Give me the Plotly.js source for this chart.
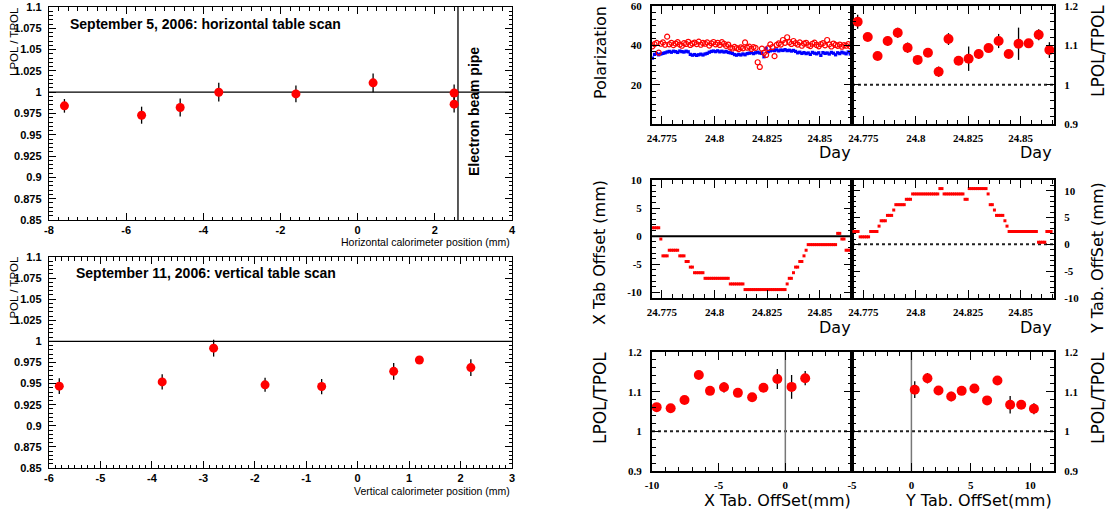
<!DOCTYPE html>
<html><head><meta charset="utf-8">
<script src="https://cdn.plot.ly/plotly-3.0.1.min.js"></script>
<style>html,body{margin:0;padding:0;background:#fff}#chart{width:1107px;height:509px}</style>
</head><body><div id="chart"></div>
<script>
// ---------------- DATA ----------------
// Left top: horizontal table scan
const hScanPos   = [-7.6, -5.6, -4.6, -3.6, -1.6, 0.4, 2.5, 2.5];
const hScanRatio = [0.984, 0.973, 0.982, 1.000, 0.998, 1.011, 0.999, 0.986];
const hScanErr   = [0.008, 0.010, 0.0105, 0.011, 0.0098, 0.011, 0.010, 0.0098];
// Left bottom: vertical table scan
const vScanPos   = [-5.8, -3.8, -2.8, -1.8, -0.7, 0.7, 1.2, 2.2];
const vScanRatio = [0.947, 0.952, 0.992, 0.9485, 0.9465, 0.9645, 0.978, 0.969];
const vScanErr   = [0.0093, 0.009, 0.010, 0.0083, 0.009, 0.010, 0.0034, 0.0099];
// Time stamps (days) of the polarisation / table position records
const days = [
 24.7705,24.7715,24.7725,24.7735,24.7745,24.7755,24.7765,24.7775,24.7785,24.7795,
 24.7805,24.7815,24.7825,24.7835,24.7845,24.7855,24.7865,24.7875,24.7885,24.7895,
 24.7905,24.7915,24.7925,24.7935,24.7945,24.7955,24.7965,24.7975,24.7985,24.7995,
 24.8005,24.8015,24.8025,24.8035,24.8045,24.8055,24.8065,24.8075,24.8085,24.8095,
 24.8105,24.8115,24.8125,24.8135,24.8145,24.8155,24.8165,24.8175,24.8185,24.8195,
 24.8205,24.8215,24.8225,24.8235,24.8245,24.8255,24.8265,24.8275,24.8285,24.8295,
 24.8305,24.8315,24.8325,24.8335,24.8345,24.8355,24.8365,24.8375,24.8385,24.8395,
 24.8405,24.8415,24.8425,24.8435,24.8445,24.8455,24.8465,24.8475,24.8485,24.8495,
 24.8505,24.8515,24.8525,24.8535,24.8545,24.8555,24.8565,24.8575,24.8585,24.8595,
 24.8605,24.8615,24.8625,24.8635,24.8645];
const polRed = [
 39.5,40.6,41.2,36.3,40.8,41.5,40.3,44.4,40.5,41.3,
 40.1,40.9,41.6,40.4,39.8,41.1,40.7,41.8,40.2,40.9,
 41.4,40.6,41.9,40.3,41.2,40.8,41.5,39.9,41.0,41.7,
 40.5,41.3,40.2,41.6,40.8,39.7,40.4,38.9,38.4,39.2,
 38.6,38.1,39.0,38.5,41.5,38.8,39.3,38.2,39.1,38.7,
 31.4,29.0,38.3,36.2,35.1,38.6,40.5,39.1,34.5,40.2,
 41.0,40.4,42.7,41.3,44.1,41.6,40.7,42.2,41.1,40.4,
 41.5,39.8,40.9,41.3,40.1,39.6,40.8,41.4,40.2,39.5,
 40.6,41.1,40.0,42.7,40.5,39.4,40.9,40.2,39.7,40.4,
 39.3,40.1,39.8,40.6,39.5];
const polBlue = [
 33.5,35.4,35.8,35.2,35.6,35.9,36.2,36.6,36.9,36.5,
 37.0,36.8,36.4,37.1,36.8,36.6,37.0,36.7,35.4,35.0,
 35.3,34.9,35.2,35.5,35.1,35.6,35.9,36.5,36.9,37.1,
 36.8,37.2,36.7,37.0,36.6,36.9,36.4,36.2,35.9,35.3,
 35.0,35.4,35.1,35.6,35.2,35.8,36.0,36.3,35.8,36.2,
 36.5,36.1,35.9,34.2,38.5,36.8,37.2,37.5,37.3,37.7,
 37.2,37.6,37.4,37.8,37.3,37.5,37.1,37.4,36.9,36.2,
 36.5,35.9,36.3,35.8,36.1,35.4,36.4,36.0,35.7,36.2,
 34.9,36.3,35.9,36.1,35.6,36.4,36.0,35.2,36.2,35.8,
 36.5,36.1,35.7,36.6,35.6];
const xTabOffset = [
 1.5,1.5,1.5,1.5,-0.5,-3.5,-3.5,-3.5,-2.5,-2.5,
 -2.5,-2.5,-2.5,-3.5,-3.5,-3.5,-4.5,-4.5,-5.5,-5.5,
 -6.5,-6.5,-6.5,-6.5,-6.5,-7.5,-7.5,-7.5,-7.5,-7.5,
 -7.5,-7.5,-7.5,-7.5,-7.5,-7.5,-7.5,-8.5,-8.5,-8.5,
 -8.5,-8.5,-8.5,-8.5,-9.5,-9.5,-9.5,-9.5,-9.5,-9.5,
 -9.5,-9.5,-9.5,-9.5,-9.5,-9.5,-9.5,-9.5,-9.5,-9.5,
 -9.5,-9.5,-9.5,-9.5,-8.5,-7.5,-7.5,-6.5,-5.5,-5.5,
 -4.5,-4.5,-3.5,-2.5,-1.5,-1.5,-1.5,-1.5,-1.5,-1.5,
 -1.5,-1.5,-1.5,-1.5,-1.5,-1.5,-1.5,-1.5,0.5,0.5,
 -0.5,-0.5,-2.5,-2.5,-2.5];
const yTabOffset = [
 2.4,2.4,2.4,1.4,1.4,1.4,1.4,1.4,2.4,2.4,
 2.4,2.4,3.4,4.4,4.4,4.4,5.4,5.4,5.4,6.4,
 7.4,7.4,7.4,7.4,7.4,8.4,8.4,8.4,9.4,9.4,
 9.4,9.4,9.4,9.4,9.4,9.4,9.4,9.4,9.4,9.4,
 9.4,10.4,10.4,9.4,9.4,9.4,9.4,9.4,9.4,9.4,
 9.4,9.4,9.4,8.4,8.4,10.4,10.4,10.4,10.4,10.4,
 10.4,10.4,10.4,10.4,9.4,7.4,7.4,6.4,5.4,5.4,
 5.4,5.4,4.4,3.4,2.4,2.4,2.4,2.4,2.4,2.4,
 2.4,2.4,2.4,2.4,2.4,2.4,2.4,2.4,0.4,0.4,
 0.4,0.4,2.4,2.4,2.4];
// LPOL/TPOL vs day
const ratioDay = [24.7723,24.7771,24.7818,24.7866,24.7914,24.7961,24.8009,24.8058,24.8109,24.8156,
                  24.8204,24.8252,24.8300,24.8347,24.8395,24.8443,24.8490,24.8538,24.8586,24.8637];
const ratioVsDay = [1.160,1.121,1.073,1.111,1.132,1.094,1.063,1.081,1.033,1.116,
                    1.061,1.066,1.078,1.093,1.111,1.078,1.104,1.105,1.127,1.088];
const ratioVsDayErr = [0.018,0.006,0.011,0.012,0.013,0.013,0.010,0.010,0.013,0.015,
                       0.006,0.031,0.012,0.008,0.018,0.007,0.041,0.007,0.014,0.020];
const ratioVsDayDayErr = [0.0011,0.0011,0.0011,0.0011,0.0011,0.0011,0.0011,0.0011,0.0011,0.0011,
                          0.0011,0.0011,0.0011,0.0011,0.0011,0.0011,0.0011,0.0011,0.0011,0.0011];
// LPOL/TPOL vs X table offset
const xTabPos = [-9.65,-8.6,-7.56,-6.49,-5.65,-4.6,-3.56,-2.49,-1.64,-0.6,0.47,1.49];
const ratioVsXTab = [1.061,1.058,1.079,1.142,1.102,1.111,1.097,1.086,1.110,1.132,1.112,1.134];
const ratioVsXTabErr = [0.007,0.006,0.006,0.006,0.008,0.013,0.006,0.006,0.006,0.025,0.030,0.018];
// LPOL/TPOL vs Y table offset
const yTabPos = [0.28,1.35,2.28,3.35,4.23,5.3,6.37,7.24,8.31,9.24,10.31];
const ratioVsYTab = [1.105,1.134,1.103,1.088,1.102,1.108,1.078,1.128,1.067,1.067,1.057];
const ratioVsYTabErr = [0.021,0.013,0.006,0.012,0.006,0.010,0.006,0.006,0.022,0.006,0.014];

// tick labels
const leftRatioTicks = [0.85,0.875,0.9,0.925,0.95,0.975,1,1.025,1.05,1.075,1.1];
const hPosTicks = [-8,-6,-4,-2,0,2,4];
const vPosTicks = [-6,-5,-4,-3,-2,-1,0,1,2,3];
const dayTicks = [24.775,24.8,24.825,24.85];
const polTicks = [20,40,60];
const ratioTicks = [0.9,1,1.1,1.2];
const offsetTicks = [-10,-5,0,5,10];
const xTabTicks = [-10,-5,0];
const yTabTicks = [-5,0,5,10];

// ---------------- LAYOUT HELPERS ----------------
const W = 1107, H = 509;
const dx = (a,b) => [a/W, b/W];
const dy = (top,bot) => [1-bot/H, 1-top/H];

const leftTick = {family:'Liberation Sans, Arial, sans-serif', size:11, color:'#000', weight:'bold'};
const rightTick = {family:'Liberation Serif, Times New Roman, serif', size:11, color:'#000', weight:'bold'};

function leftAxis(extra){
  return Object.assign({showline:true, linecolor:'#000', linewidth:1.2, mirror:'ticks',
    ticks:'inside', ticklen:7, tickcolor:'#000', tickwidth:1, showgrid:false, zeroline:false,
    tickfont:leftTick, fixedrange:true, tickmode:'array', ticklabeloverflow:'allow'}, extra);
}
function rightAxis(extra){
  return Object.assign({showline:true, linecolor:'#000', linewidth:2, mirror:'ticks',
    ticks:'inside', ticklen:8, tickcolor:'#000', tickwidth:1, showgrid:false, zeroline:false,
    tickfont:rightTick, fixedrange:true, tickmode:'array', ticklabeloverflow:'allow'}, extra);
}
const minorL = (d) => ({tickmode:'linear', dtick:d, ticklen:3.5, tickcolor:'#000', ticks:'inside', showgrid:false});
const minorR = (d) => ({tickmode:'linear', dtick:d, ticklen:4, tickcolor:'#000', ticks:'inside', showgrid:false});
const tk = (vals) => ({tickvals:vals, ticktext:vals.map(String)});

const col1 = dx(652,852), col2 = dx(852,1054);
const row1 = dy(6,124), row2 = dy(180,298), row3 = dy(352,471);

const layout = {
  width:W, height:H, margin:{l:0,r:0,t:0,b:0},
  paper_bgcolor:'#fff', plot_bgcolor:'#fff', showlegend:false,
  xaxis: leftAxis(Object.assign({domain:dx(49,512), anchor:'y', range:[-8,4], minor:minorL(0.25), ticklabelstandoff:0}, tk(hPosTicks))),
  yaxis: leftAxis(Object.assign({domain:dy(7,220), anchor:'x', range:[0.85,1.1], minor:minorL(0.005), ticklabelstandoff:4}, tk(leftRatioTicks))),
  xaxis2: leftAxis(Object.assign({domain:dx(49,512), anchor:'y2', range:[-6,3], minor:minorL(0.125), ticklabelstandoff:0}, tk(vPosTicks))),
  yaxis2: leftAxis(Object.assign({domain:dy(257,468), anchor:'x2', range:[0.85,1.1], minor:minorL(0.005), ticklabelstandoff:4}, tk(leftRatioTicks))),
  xaxis3: rightAxis(Object.assign({domain:col1, anchor:'y3', range:[24.7703,24.8653], minor:minorR(0.005), ticklabelstandoff:3}, tk(dayTicks))),
  yaxis3: rightAxis(Object.assign({domain:row1, anchor:'x3', range:[0,60], minor:minorR(10/3), ticklabelstandoff:6}, tk(polTicks))),
  xaxis4: rightAxis(Object.assign({domain:col2, anchor:'y4', range:[24.7696,24.8659], minor:minorR(0.005), ticklabelstandoff:3}, tk(dayTicks))),
  yaxis4: rightAxis(Object.assign({domain:row1, anchor:'x4', side:'right', range:[0.9,1.2], minor:minorR(0.02), ticklabelstandoff:6}, tk(ratioTicks))),
  xaxis5: rightAxis(Object.assign({domain:col1, anchor:'y5', range:[24.7703,24.8653], minor:minorR(0.005), ticklabelstandoff:3}, tk(dayTicks))),
  yaxis5: rightAxis(Object.assign({domain:row2, anchor:'x5', range:[-11,10], minor:minorR(1), ticklabelstandoff:6}, tk(offsetTicks))),
  xaxis6: rightAxis(Object.assign({domain:col2, anchor:'y6', range:[24.7696,24.8659], minor:minorR(0.005), ticklabelstandoff:3}, tk(dayTicks))),
  yaxis6: rightAxis(Object.assign({domain:row2, anchor:'x6', side:'right', range:[-10,12], minor:minorR(1), ticklabelstandoff:6}, tk(offsetTicks))),
  xaxis7: rightAxis(Object.assign({domain:col1, anchor:'y7', range:[-10,5], minor:minorR(1), ticklabelstandoff:3}, tk(xTabTicks))),
  yaxis7: rightAxis(Object.assign({domain:row3, anchor:'x7', range:[0.9,1.2], minor:minorR(0.02), ticklabelstandoff:6}, tk(ratioTicks))),
  xaxis8: rightAxis(Object.assign({domain:col2, anchor:'y8', range:[-5,12], minor:minorR(1), ticklabelstandoff:3}, tk(yTabTicks))),
  yaxis8: rightAxis(Object.assign({domain:row3, anchor:'x8', side:'right', range:[0.9,1.2], minor:minorR(0.02), ticklabelstandoff:6}, tk(ratioTicks))),
};

// reference lines
const UNITY = 1, ZERO = 0, BEAM_PIPE = 2.6;
function hline(ax, ay, v, style){ return {type:'line', xref:ax+' domain', x0:0, x1:1, yref:ay, y0:v, y1:v, layer:'below', line:style}; }
function vline(ax, ay, v, style){ return {type:'line', yref:ay+' domain', y0:0, y1:1, xref:ax, x0:v, x1:v, layer:'below', line:style}; }
const solid = {color:'#000', width:1.3};
const dotted = {color:'#222', width:2, dash:'dot'};
layout.shapes = [
  hline('x','y',UNITY,solid), vline('x','y',BEAM_PIPE,{color:'#000',width:1.3}),
  hline('x2','y2',UNITY,solid),
  hline('x4','y4',UNITY,dotted),
  hline('x5','y5',ZERO,{color:'#000',width:2}),
  hline('x6','y6',ZERO,dotted),
  hline('x7','y7',UNITY,dotted), vline('x7','y7',ZERO,{color:'#777',width:1.5}),
  hline('x8','y8',UNITY,dotted), vline('x8','y8',ZERO,{color:'#777',width:1.5}),
];

function ann(text, x, y, font, extra){
  return Object.assign({text, xref:'paper', yref:'paper', x:x/W, y:1-y/H, showarrow:false, font,
    xanchor:'center', yanchor:'middle'}, extra||{});
}
const boldF = {family:'Liberation Sans, Arial, sans-serif', size:14, color:'#000', weight:'bold'};
const smallF = {family:'Liberation Sans, Arial, sans-serif', size:10.5, color:'#000'};
const axTitleF = {family:'Liberation Sans, Arial, sans-serif', size:11.5, color:'#000'};
const titleF = {family:'DejaVu Sans, sans-serif', size:16, color:'#000'};
const titleFL = {family:'DejaVu Sans, sans-serif', size:17, color:'#000'};
layout.annotations = [
  ann('September 5, 2006: horizontal table scan', 68, 24, boldF, {xanchor:'left'}),
  ann('Electron beam pipe', 474, 112, boldF, {textangle:-90}),
  ann('LPOL / TPOL', 14, 42, axTitleF, {textangle:-90}),
  ann('Horizontal calorimeter position (mm)', 512, 241.5, smallF, {xanchor:'right'}),
  ann('September 11, 2006: vertical table scan', 74, 273, boldF, {xanchor:'left'}),
  ann('LPOL / TPOL', 14, 291, axTitleF, {textangle:-90}),
  ann('Vertical calorimeter position (mm)', 512, 490.5, smallF, {xanchor:'right'}),
  ann('Polarization', 600, 53, titleF, {textangle:-90}),
  ann('Day', 853, 152, titleF, {xanchor:'right'}),
  ann('LPOL/TPOL', 1098, 51, titleFL, {textangle:-90}),
  ann('Day', 1054, 152, titleF, {xanchor:'right'}),
  ann('X Tab Offset (mm)', 600, 253, titleF, {textangle:-90}),
  ann('Day', 853, 327, titleF, {xanchor:'right'}),
  ann('Y Tab. OffSet (mm)', 1097, 258, titleF, {textangle:-90}),
  ann('Day', 1054, 327, titleF, {xanchor:'right'}),
  ann('LPOL/TPOL', 600, 398, titleFL, {textangle:-90}),
  ann('X Tab. OffSet(mm)', 853, 500, titleF, {xanchor:'right'}),
  ann('Y Tab. OffSet(mm)', 1054, 500, titleF, {xanchor:'right'}),
  ann('LPOL/TPOL', 1098, 398, titleFL, {textangle:-90}),
];

// ---------------- TRACES ----------------
const errStyle = (arr) => ({type:'data', array:arr, visible:true, color:'#000', thickness:1.3, width:0});
const redDot = (s) => ({color:'#ff0000', size:s, symbol:'circle'});
const traces = [
  {type:'scatter', mode:'markers', x:hScanPos, y:hScanRatio, xaxis:'x', yaxis:'y',
   error_y:errStyle(hScanErr), marker:redDot(9)},
  {type:'scatter', mode:'markers', x:vScanPos, y:vScanRatio, xaxis:'x2', yaxis:'y2',
   error_y:errStyle(vScanErr), marker:redDot(9)},
  {type:'scatter', mode:'markers', x:days, y:polBlue, xaxis:'x3', yaxis:'y3',
   marker:{color:'#0000ff', size:3.3, symbol:'square'}},
  {type:'scatter', mode:'markers', x:days, y:polRed, xaxis:'x3', yaxis:'y3',
   marker:{color:'#ff0000', size:5, symbol:'circle-open', line:{width:1.2}}},
  {type:'scatter', mode:'markers', x:ratioDay, y:ratioVsDay, xaxis:'x4', yaxis:'y4',
   error_y:errStyle(ratioVsDayErr), error_x:errStyle(ratioVsDayDayErr), marker:redDot(10), cliponaxis:false},
  {type:'scatter', mode:'markers', x:days, y:xTabOffset, xaxis:'x5', yaxis:'y5',
   marker:{color:'#ff0000', size:3, symbol:'square'}},
  {type:'scatter', mode:'markers', x:days, y:yTabOffset, xaxis:'x6', yaxis:'y6',
   marker:{color:'#ff0000', size:3, symbol:'square'}},
  {type:'scatter', mode:'markers', x:xTabPos, y:ratioVsXTab, xaxis:'x7', yaxis:'y7',
   error_y:errStyle(ratioVsXTabErr), marker:redDot(10)},
  {type:'scatter', mode:'markers', x:yTabPos, y:ratioVsYTab, xaxis:'x8', yaxis:'y8',
   error_y:errStyle(ratioVsYTabErr), marker:redDot(10)},
];

Plotly.newPlot('chart', traces, layout, {displayModeBar:false, staticPlot:true});
</script>
</body></html>
